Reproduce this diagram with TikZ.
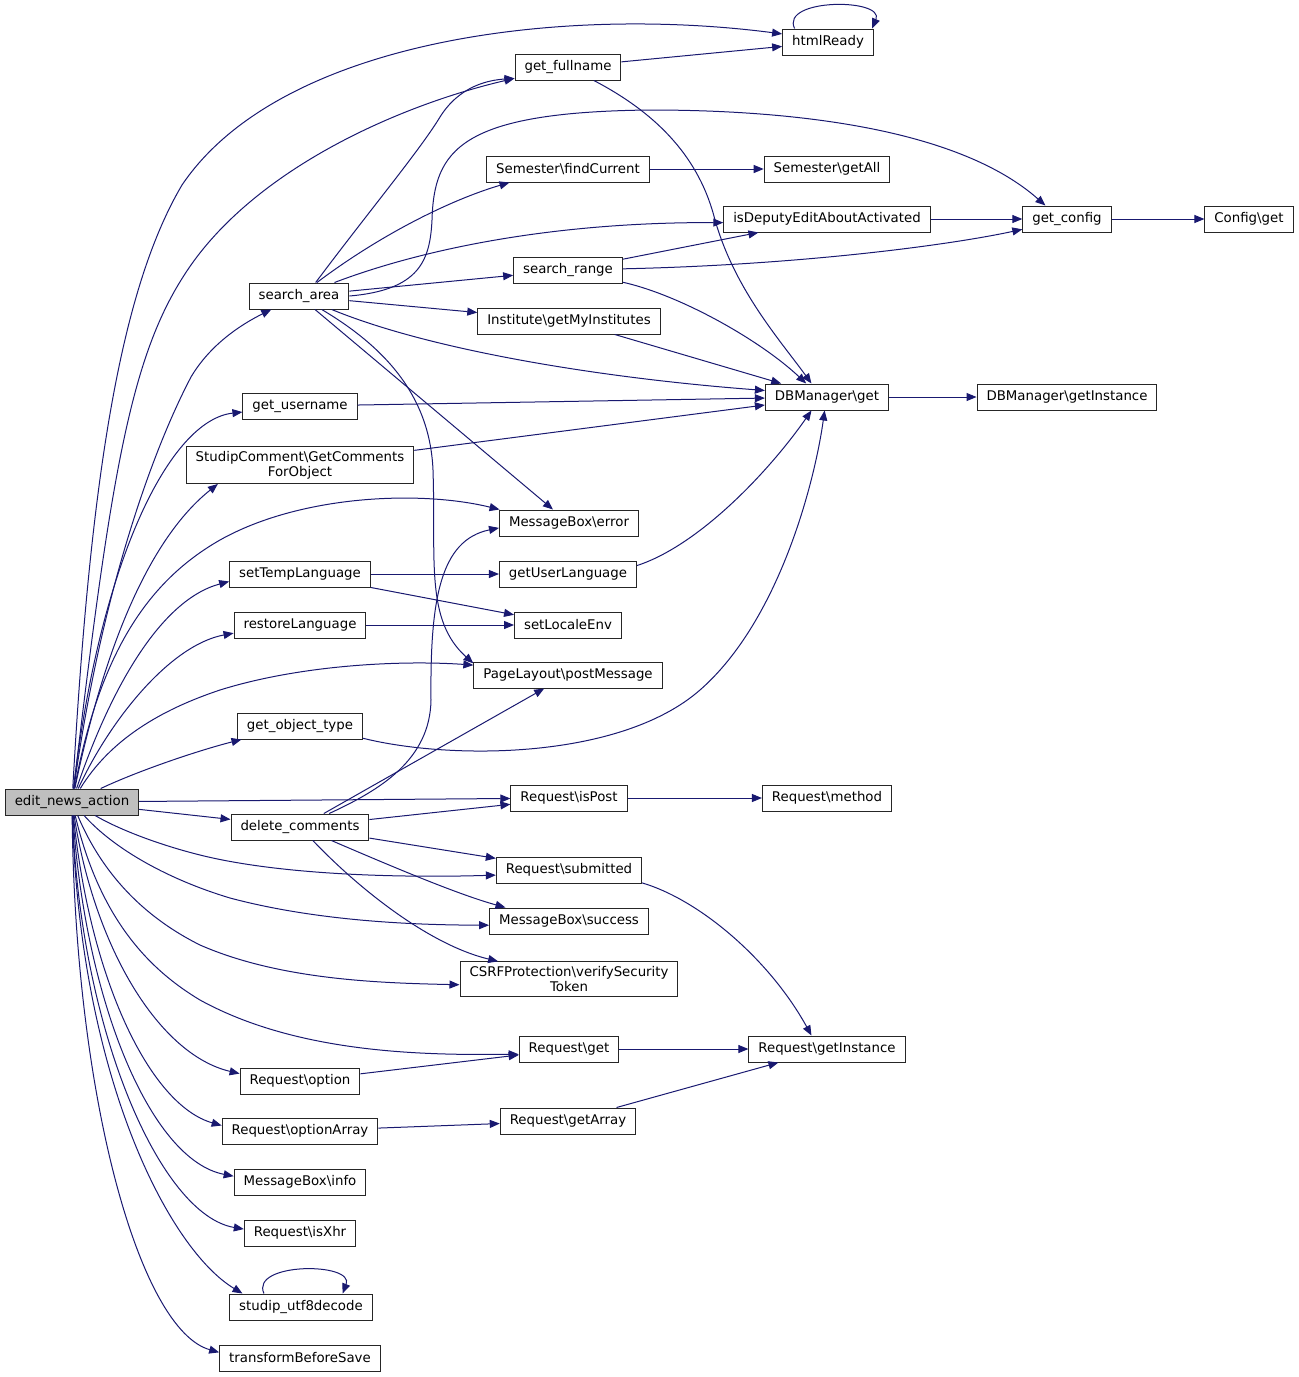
\documentclass[tikz,border=0pt]{standalone}
\usepackage{fontspec}
\setmainfont{DejaVu Sans}
\usetikzlibrary{arrows.meta}
\definecolor{edgeblue}{HTML}{191970}
\definecolor{rootgray}{HTML}{BFBFBF}
\definecolor{boxline}{HTML}{262626}

\begin{document}
\begin{tikzpicture}[x=1pt, y=-1pt,
  fn/.style={draw=boxline, line width=1pt, fill=white, inner xsep=9.5pt, inner ysep=4.5pt,
    minimum height=26pt, align=center, font=\fontsize{13.33}{15}\selectfont},
  root/.style={fn, fill=rootgray},
  call/.style={draw=edgeblue, line width=1pt, -{Triangle[length=10pt,width=8pt]}}]
\useasboundingbox (0,0) rectangle (1299,1377);

% Caller
\node[root] (enact) at (72,802) {edit\_news\_action};

% First level
\node[fn] (searcharea) at (299,296) {search\_area};
\node[fn] (username) at (300,406) {get\_username};
\node[fn] (comments) at (300,465) {StudipComment\textbackslash GetComments\\ForObject};
\node[fn] (settemp) at (300,574) {setTempLanguage};
\node[fn] (restore) at (300,625) {restoreLanguage};
\node[fn] (objtype) at (300,726) {get\_object\_type};
\node[fn] (delcom) at (300,827) {delete\_comments};
\node[fn] (option) at (300,1081) {Request\textbackslash option};
\node[fn] (optarray) at (300,1131) {Request\textbackslash optionArray};
\node[fn] (mbinfo) at (300,1182) {MessageBox\textbackslash info};
\node[fn] (isxhr) at (300,1233) {Request\textbackslash isXhr};
\node[fn] (utf8) at (301,1307) {studip\_utf8decode};
\node[fn] (transform) at (300,1358) {transformBeforeSave};

% Second level
\node[fn] (fullname) at (568,67) {get\_fullname};
\node[fn] (findcur) at (568,169) {Semester\textbackslash findCurrent};
\node[fn] (searchrange) at (568,270) {search\_range};
\node[fn] (myinst) at (569,321) {Institute\textbackslash getMyInstitutes};
\node[fn] (mberror) at (569,523) {MessageBox\textbackslash error};
\node[fn] (userlang) at (568,574) {getUserLanguage};
\node[fn] (localeenv) at (568,625) {setLocaleEnv};
\node[fn] (postmsg) at (568,675) {PageLayout\textbackslash postMessage};
\node[fn] (ispost) at (569,798) {Request\textbackslash isPost};
\node[fn] (submitted) at (569,870) {Request\textbackslash submitted};
\node[fn] (mbsuccess) at (569,921) {MessageBox\textbackslash success};
\node[fn] (csrf) at (569,979) {CSRFProtection\textbackslash verifySecurity\\Token};
\node[fn] (reqget) at (569,1049) {Request\textbackslash get};
\node[fn] (getarray) at (568,1121) {Request\textbackslash getArray};

% Third level
\node[fn] (htmlready) at (828,42) {htmlReady};
\node[fn] (getall) at (827,169) {Semester\textbackslash getAll};
\node[fn] (isdeputy) at (827,219) {isDeputyEditAboutActivated};
\node[fn] (dbget) at (827,397) {DBManager\textbackslash get};
\node[fn] (method) at (827,798) {Request\textbackslash method};
\node[fn] (reqinst) at (827,1049) {Request\textbackslash getInstance};

% Fourth level
\node[fn] (getconfig) at (1067,219) {get\_config};
\node[fn] (dbinst) at (1067,397) {DBManager\textbackslash getInstance};
\node[fn] (cfgget) at (1249,219) {Config\textbackslash get};

% Calls from edit_news_action
\draw[call] (enact) .. controls (90,480) and (120,290) .. (182,185) .. controls (280,40) and (560,5) .. (htmlready.170);
\draw[call] (enact) .. controls (110,480) and (130,360) .. (183,277) .. controls (250,170) and (400,105) .. (fullname.192);
\draw[call] (enact) .. controls (100,600) and (150,455) .. (191,377) .. controls (210,345) and (240,325) .. (searcharea.206);
\draw[call] (enact) .. controls (100,560) and (170,420) .. (username.186);
\draw[call] (enact) .. controls (110,620) and (160,530) .. (comments.193);
\draw[call] (enact) .. controls (100,650) and (150,580) .. (220,540) .. controls (300,495) and (420,490) .. (mberror.169);
\draw[call] (enact) .. controls (110,690) and (160,600) .. (settemp.186);
\draw[call] (enact) .. controls (110,720) and (170,645) .. (restore.187);
\draw[call] (enact) .. controls (110,740) and (160,710) .. (220,690) .. controls (300,665) and (400,660) .. (postmsg.174);
\draw[call] (enact) .. controls (140,770) and (200,750) .. (objtype.193);
\draw[call] (enact) -- (ispost);
\draw[call] (enact) -- (delcom);
\draw[call] (enact) .. controls (120,830) and (160,845) .. (200,855) .. controls (280,875) and (400,878) .. (submitted.184);
\draw[call] (enact) .. controls (115,850) and (170,880) .. (230,898) .. controls (320,922) and (420,925) .. (mbsuccess.183);
\draw[call] (enact) .. controls (105,880) and (150,920) .. (200,945) .. controls (280,980) and (380,983) .. (csrf.183);
\draw[call] (enact) .. controls (100,920) and (150,970) .. (200,1000) .. controls (300,1055) and (430,1055) .. (reqget.186);
\draw[call] (enact) .. controls (95,950) and (160,1055) .. (option.173);
\draw[call] (enact) .. controls (90,980) and (150,1105) .. (optarray.176);
\draw[call] (enact) .. controls (85,1000) and (150,1160) .. (mbinfo.175);
\draw[call] (enact) .. controls (80,1030) and (160,1215) .. (isxhr.176);
\draw[call] (enact) .. controls (80,1080) and (170,1250) .. (utf8.167);
\draw[call] (enact) .. controls (75,1100) and (140,1330) .. (transform.176);

% Calls from search_area
\draw[call] (searcharea.39) .. controls (370,210) and (420,150) .. (440,117) .. controls (460,85) and (490,80) .. (fullname.192);
\draw[call] (searcharea) .. controls (380,235) and (450,200) .. (findcur.193);
\draw[call] (searcharea) .. controls (420,250) and (550,222) .. (isdeputy.182);
\draw[call] (searcharea) -- (searchrange);
\draw[call] (searcharea.east) .. controls (420,290) and (430,260) .. (432,220) .. controls (434,150) and (460,112) .. (650,110) .. controls (800,110) and (960,130) .. (getconfig.148);
\draw[call] (searcharea) -- (myinst);
\draw[call] (searcharea) .. controls (430,350) and (600,378) .. (dbget.174);
\draw[call] (searcharea) -- (mberror);
\draw[call] (searcharea) .. controls (390,350) and (430,400) .. (433,470) .. controls (436,560) and (425,620) .. (postmsg.173);

% Calls from delete_comments
\draw[call] (delcom) .. controls (380,790) and (430,760) .. (431,700) .. controls (430,600) and (440,540) .. (mberror.184);
\draw[call] (delcom) -- (postmsg);
\draw[call] (delcom) -- (ispost);
\draw[call] (delcom) -- (submitted);
\draw[call] (delcom) .. controls (400,870) and (460,895) .. (mbsuccess.168);
\draw[call] (delcom) .. controls (360,890) and (430,945) .. (csrf.166);

% Other calls
\draw[call] (fullname) -- (htmlready);
\draw[call] (fullname) .. controls (660,115) and (700,160) .. (715,220) .. controls (735,290) and (780,340) .. (dbget.139);
\draw[call] (htmlready.158) .. controls (780,-2) and (885,-2) .. (htmlready.17);
\draw[call] (findcur) -- (getall);
\draw[call] (isdeputy) -- (getconfig);
\draw[call] (getconfig) -- (cfgget);
\draw[call] (searchrange) -- (isdeputy);
\draw[call] (searchrange) .. controls (800,265) and (950,245) .. (getconfig.193);
\draw[call] (searchrange) .. controls (680,295) and (760,340) .. (dbget.147);
\draw[call] (myinst) -- (dbget);
\draw[call] (dbget) -- (dbinst);
\draw[call] (username) -- (dbget);
\draw[call] (comments) -- (dbget);
\draw[call] (userlang.7) .. controls (700,545) and (770,470) .. (dbget.221);
\draw[call] (objtype.-11) .. controls (450,760) and (620,760) .. (700,690) .. controls (780,620) and (815,480) .. (dbget.-100);
\draw[call] (settemp) -- (userlang);
\draw[call] (settemp) -- (localeenv);
\draw[call] (restore) -- (localeenv);
\draw[call] (ispost) -- (method);
\draw[call] (submitted.-10) .. controls (700,900) and (770,960) .. (reqinst.139);
\draw[call] (reqget) -- (reqinst);
\draw[call] (option) -- (reqget);
\draw[call] (optarray) -- (getarray);
\draw[call] (getarray) -- (reqinst);
\draw[call] (utf8.160) .. controls (250,1262) and (355,1262) .. (utf8.18);
\end{tikzpicture}
\end{document}
